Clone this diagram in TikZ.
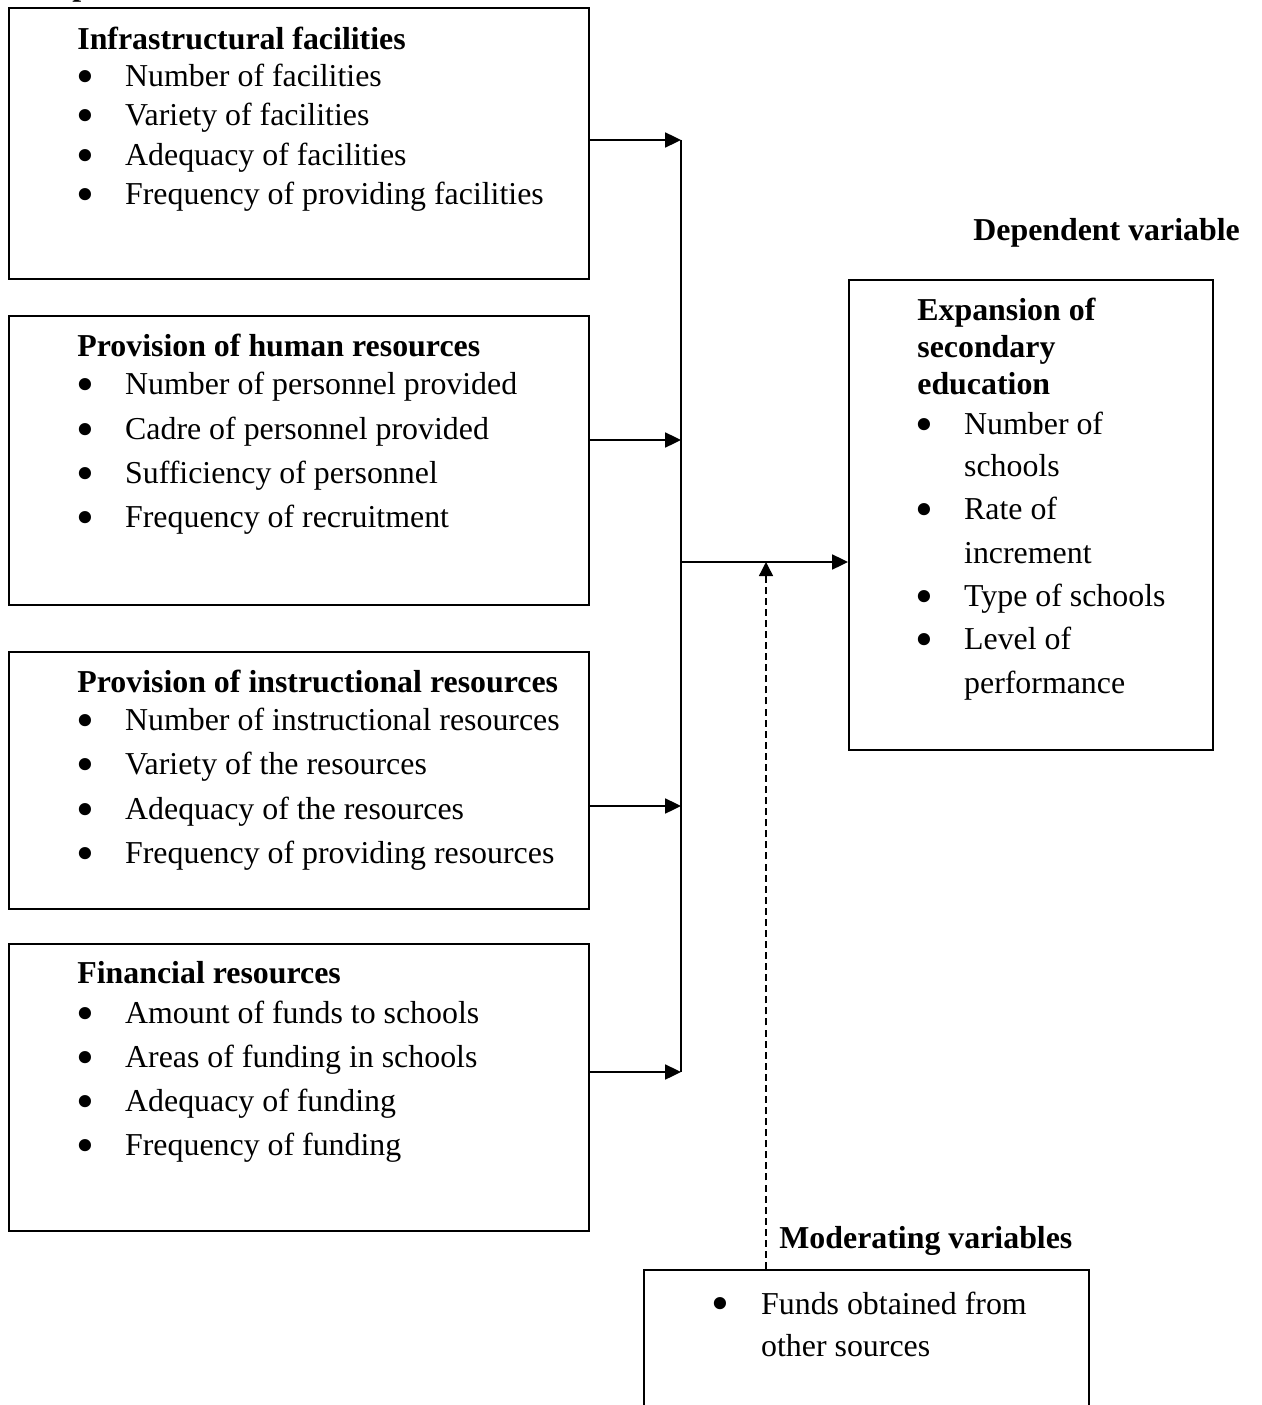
\documentclass[tikz,border=0pt]{standalone}
\usepackage{fontspec}
\setmainfont{Liberation Serif}
\usetikzlibrary{arrows.meta, positioning}
\newlength\pxu
\setlength\pxu{0.5669pt}
\newcommand{\bigbul}{\raisebox{-7\pxu}{\scalebox{1.6}{\textbullet}}}
\newcommand{\bitem}[1]{\makebox[48\pxu][l]{\hspace{-1\pxu}\bigbul}#1}
\newcommand{\ritem}[1]{\makebox[47\pxu][l]{\hspace{-2\pxu}\bigbul}#1}
\newcommand{\rcont}[1]{\hspace*{47\pxu}#1}
\newcommand{\boxlines}[1]{\begin{tabular}[t]{@{}l@{}}#1\end{tabular}}
\begin{document}
\begin{tikzpicture}[x=0.02cm, y=-0.02cm,
		varbox/.style={
			rectangle,
			draw=black, line width=1.1pt,
			anchor=north west,
			inner sep=0pt},
		boxtext/.style={
			anchor=base west, inner sep=0pt,
			font=\fontsize{18.14pt}{20.98pt}\selectfont},
		heading/.style={
			anchor=base west, inner sep=0pt,
			font=\fontsize{18.14pt}{20.98pt}\selectfont\bfseries},
		arrow/.style={line width=1.1pt, draw, -{Triangle[length=9pt, width=8.5pt]}},
		dasharrow/.style={line width=0.8pt, draw, dash pattern=on 4pt off 2.3pt,
			-{Triangle[length=8pt, width=8pt]}}]
		\useasboundingbox (0,0) rectangle (1261,1405);
		% independent variables
		\node[heading] (indep) at (10,-4) {Independent variables};
		\node[varbox, minimum width=11.6cm, minimum height=5.42cm] (infra) at (8,7) {};
		\node[boxtext] (infratext) at (77,49.5) {\boxlines{\textbf{Infrastructural facilities}\\
			\bitem{Number of facilities}\\[2.5\pxu]
			\bitem{Variety of facilities}\\[2.5\pxu]
			\bitem{Adequacy of facilities}\\[2.5\pxu]
			\bitem{Frequency of providing facilities}}};
		\node[varbox, minimum width=11.6cm, minimum height=5.78cm] (human) at (8,315) {};
		\node[boxtext] (humantext) at (77,357) {\boxlines{\textbf{Provision of human resources}\\[1\pxu]
			\bitem{Number of personnel provided}\\[7.5\pxu]
			\bitem{Cadre of personnel provided}\\[7.5\pxu]
			\bitem{Sufficiency of personnel}\\[7.5\pxu]
			\bitem{Frequency of recruitment}}};
		\node[varbox, minimum width=11.6cm, minimum height=5.14cm] (instr) at (8,651) {};
		\node[boxtext] (instrtext) at (77,692) {\boxlines{\textbf{Provision of instructional resources}\\[2\pxu]
			\bitem{Number of instructional resources}\\[7.3\pxu]
			\bitem{Variety of the resources}\\[7.3\pxu]
			\bitem{Adequacy of the resources}\\[7.3\pxu]
			\bitem{Frequency of providing resources}}};
		\node[varbox, minimum width=11.6cm, minimum height=5.74cm] (fin) at (8,943) {};
		\node[boxtext] (fintext) at (77,983.5) {\boxlines{\textbf{Financial resources}\\[3\pxu]
			\bitem{Amount of funds to schools}\\[7.3\pxu]
			\bitem{Areas of funding in schools}\\[7.3\pxu]
			\bitem{Adequacy of funding}\\[7.3\pxu]
			\bitem{Frequency of funding}}};
		% dependent variable
		\node[heading] (dep) at (973,241) {Dependent variable};
		\node[varbox, minimum width=7.28cm, minimum height=9.4cm] (expansion) at (848,279) {};
		\node[boxtext] (expansiontext) at (917,320.5) {\boxlines{\textbf{Expansion of}\\
			\textbf{secondary}\\
			\textbf{education}\\[3\pxu]
			\ritem{Number of}\\[5.5\pxu]
			\rcont{schools}\\[6.5\pxu]
			\ritem{Rate of}\\[6.5\pxu]
			\rcont{increment}\\[6.5\pxu]
			\ritem{Type of schools}\\[6.5\pxu]
			\ritem{Level of}\\[6.5\pxu]
			\rcont{performance}}};
		% moderating variables
		\node[heading] (modlabel) at (779,1248) {Moderating variables};
		\node[varbox, minimum width=8.9cm, minimum height=3.2cm] (moder) at (643,1269) {};
		\node[boxtext] (modertext) at (713,1314) {\boxlines{\makebox[48\pxu][l]{\hspace{-2\pxu}\bigbul}Funds obtained from\\[6\pxu]
			\hspace*{48\pxu}other sources}};
		% connectors
		\coordinate (jinfra) at (681,140);
		\coordinate (jhuman) at (681,440);
		\coordinate (jinstr) at (681,806);
		\coordinate (jfin) at (681,1072);
		\coordinate (jout) at (681,562);
		\coordinate (jmod) at (766,562);
		\draw [arrow] (infra.east |- jinfra) -- (jinfra);
		\draw [arrow] (human.east |- jhuman) -- (jhuman);
		\draw [arrow] (instr.east |- jinstr) -- (jinstr);
		\draw [arrow] (fin.east |- jfin) -- (jfin);
		\draw [line width=1.1pt] (jinfra) -- (jfin);
		\draw [arrow] (jout) -- (jout -| expansion.west);
		\draw [dasharrow] (moder.north -| jmod) -- (jmod);
\end{tikzpicture}
\end{document}
